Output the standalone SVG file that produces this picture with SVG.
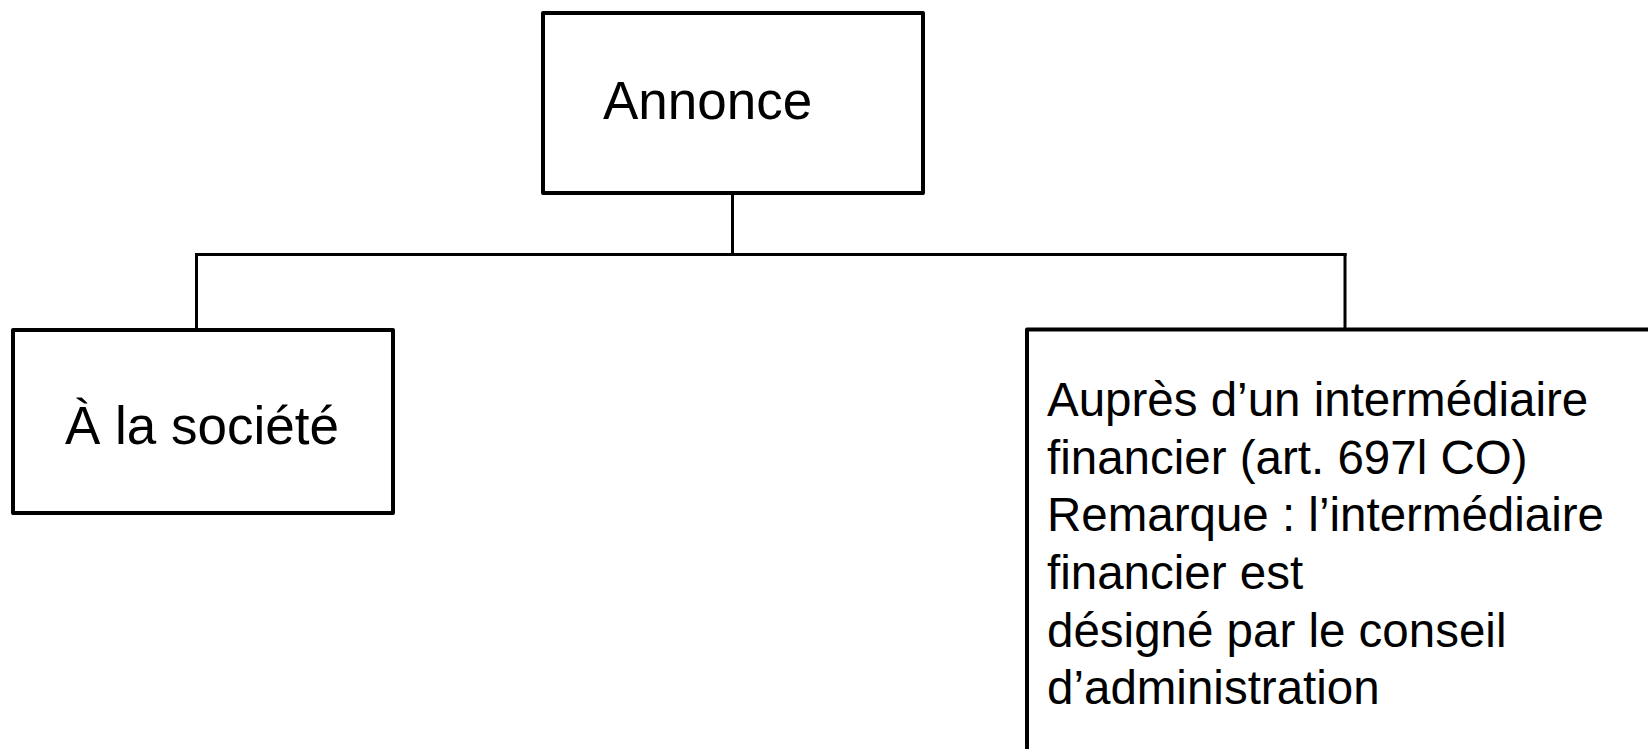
<svg xmlns="http://www.w3.org/2000/svg" width="1648" height="749" viewBox="0 0 1648 749">
<style>
.box{fill:#fff;stroke:#000;stroke-width:4;stroke-linejoin:round}
.t{font-family:"Liberation Sans",Arial,sans-serif;fill:#000}
.big{font-size:53px}
.small{font-size:47.5px}
.conn{stroke:#000;stroke-width:3;fill:none}
</style>
<rect width="1648" height="749" fill="#fff"/>
<g id="connectors">
<line class="conn" x1="732.5" y1="193" x2="732.5" y2="255"/>
<line class="conn" x1="195" y1="254.5" x2="1346.5" y2="254.5"/>
<line class="conn" x1="196.5" y1="253" x2="196.5" y2="330"/>
<line class="conn" x1="1345" y1="253" x2="1345" y2="329"/>
</g>
<g id="annonce">
<rect class="box" x="543" y="13" width="380" height="180"/>
<text class="t big" x="603" y="119">Annonce</text>
</g>
<g id="societe">
<rect class="box" x="13" y="330" width="380" height="183"/>
<text class="t big" x="65" y="444">À la société</text>
</g>
<g id="intermediaire">
<rect class="box" x="1027" y="329.5" width="700" height="500"/>
<text class="t small" x="1047" y="416">Auprès d’un intermédiaire</text>
<text class="t small" x="1047" y="473.5">financier (art. 697l CO)</text>
<text class="t small" x="1047" y="531">Remarque : l’intermédiaire</text>
<text class="t small" x="1047" y="589">financier est</text>
<text class="t small" x="1047" y="646.5">désigné par le conseil</text>
<text class="t small" x="1047" y="704">d’administration</text>
</g>
</svg>
